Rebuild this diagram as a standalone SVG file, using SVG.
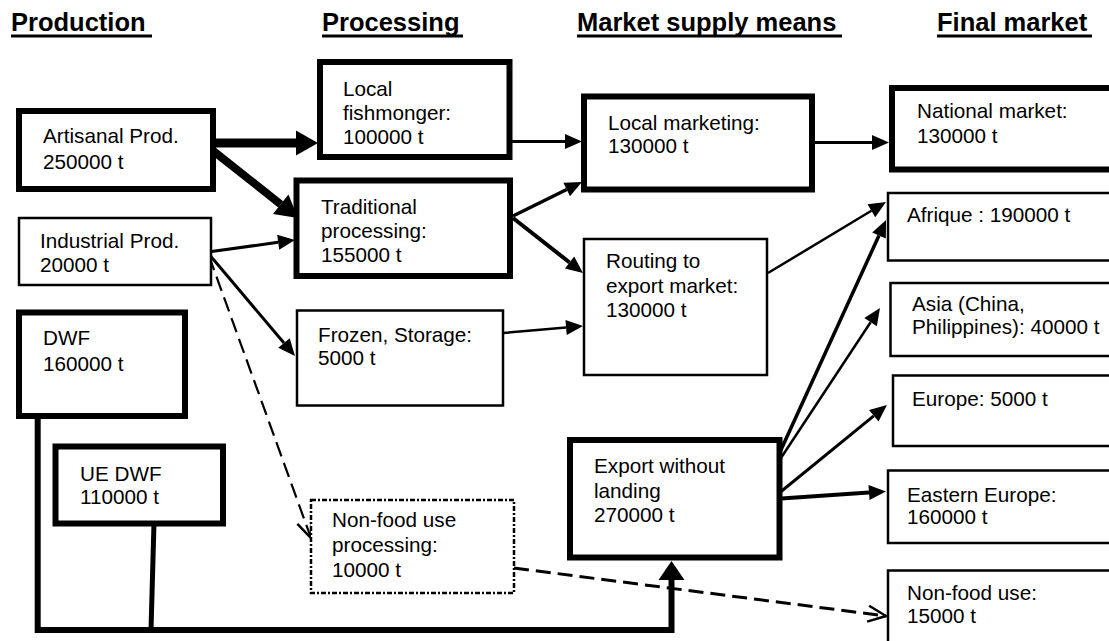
<svg xmlns="http://www.w3.org/2000/svg" width="1109" height="641" viewBox="0 0 1109 641">
<style>
text{font-family:"Liberation Sans",Arial,sans-serif;fill:#000}
.h{font-size:25.5px;font-weight:bold}
.t{font-size:20.7px}
.ul{stroke:#000;stroke-width:3}
.thick{fill:#fff;stroke:#000;stroke-width:6}
.thin{fill:#fff;stroke:#000;stroke-width:2.5}
.dot{fill:#fff;stroke:#000;stroke-width:2.5;stroke-dasharray:5 2 2 2}
.c{fill:none;stroke:#000;stroke-linecap:butt}
.dash{fill:none;stroke:#000;stroke-dasharray:15 7}
</style>
<defs>
<marker id="aL" markerUnits="userSpaceOnUse" markerWidth="24" markerHeight="26" refX="0" refY="12.5" orient="auto" overflow="visible"><path d="M0,0 L22,12.5 L0,25 z" fill="#000"/></marker>
<marker id="aM" markerUnits="userSpaceOnUse" markerWidth="18" markerHeight="16" refX="0" refY="7.5" orient="auto" overflow="visible"><path d="M0,0 L17,7.5 L0,15 z" fill="#000"/></marker>
<marker id="aO" markerUnits="userSpaceOnUse" markerWidth="20" markerHeight="18" refX="18" refY="8" orient="auto" overflow="visible"><path d="M0,0 L18,8 L0,16" fill="none" stroke="#000" stroke-width="2.5"/></marker>
</defs>
<rect width="1109" height="641" fill="#fff"/>

<g id="headers">
<text class="h" x="11" y="31">Production</text>
<line class="ul" x1="11" y1="36" x2="152" y2="36"/>
<text class="h" x="322" y="31">Processing</text>
<line class="ul" x1="322" y1="36" x2="463" y2="36"/>
<text class="h" x="577" y="31">Market supply means</text>
<line class="ul" x1="577" y1="36" x2="842" y2="36"/>
<text class="h" x="937" y="31">Final market</text>
<line class="ul" x1="937" y1="36" x2="1092" y2="36"/>
</g>

<g id="connectors">
<path class="c" d="M37.7,412 L37.7,630 L671.5,630 L671.5,579" stroke-width="6" stroke-linejoin="miter" stroke-linecap="round"/>
<path class="c" d="M154,523 L151,630" stroke-width="5"/>
<polygon points="658.5,580 684.5,580 671.5,561" fill="#000"/>
<line class="c" x1="206" y1="143" x2="296" y2="143" stroke-width="9" marker-end="url(#aL)"/>
<line class="c" x1="207" y1="146" x2="280.7" y2="204.3" stroke-width="8" marker-end="url(#aL)"/>
<line class="c" x1="208" y1="252" x2="278.2" y2="242.3" stroke-width="3" marker-end="url(#aM)"/>
<line class="c" x1="208" y1="253" x2="284" y2="343" stroke-width="3" marker-end="url(#aM)"/>
<line class="dash" x1="209" y1="256" x2="311" y2="538" stroke-width="2.2" marker-end="url(#aO)"/>
<line class="c" x1="512" y1="141.5" x2="565" y2="141.5" stroke-width="3" marker-end="url(#aM)"/>
<line class="c" x1="513" y1="216" x2="566.7" y2="189.5" stroke-width="3.5" marker-end="url(#aM)"/>
<line class="c" x1="513" y1="218" x2="569.6" y2="262.5" stroke-width="4" marker-end="url(#aM)"/>
<line class="c" x1="503" y1="333" x2="566.1" y2="327.5" stroke-width="2.5" marker-end="url(#aM)"/>
<line class="c" x1="815" y1="142.5" x2="872" y2="142.5" stroke-width="3" marker-end="url(#aM)"/>
<line class="c" x1="768" y1="273" x2="871.4" y2="210.8" stroke-width="2.5" marker-end="url(#aM)"/>
<line class="c" x1="776" y1="460.7" x2="879" y2="235.5" stroke-width="3.5" marker-end="url(#aM)"/>
<line class="c" x1="777" y1="464" x2="870.6" y2="322.2" stroke-width="2.5" marker-end="url(#aM)"/>
<line class="c" x1="778" y1="494" x2="873.8" y2="415.8" stroke-width="3" marker-end="url(#aM)"/>
<line class="c" x1="774" y1="499" x2="869" y2="492.6" stroke-width="4" marker-end="url(#aM)"/>
<line class="dash" x1="514" y1="568" x2="886" y2="616" stroke-width="3" marker-end="url(#aO)"/>
</g>

<g id="artisanal">
<rect class="thick" x="19" y="111" width="194" height="78"/>
<text class="t" x="43" y="143">Artisanal Prod.</text>
<text class="t" x="43" y="169">250000 t</text>
</g>
<g id="industrial">
<rect class="thin" x="19" y="218" width="192" height="67"/>
<text class="t" x="40" y="248">Industrial Prod.</text>
<text class="t" x="40" y="272">20000 t</text>
</g>
<g id="dwf">
<rect class="thick" x="19" y="312.5" width="166" height="103.5"/>
<text class="t" x="43" y="345">DWF</text>
<text class="t" x="43" y="371">160000 t</text>
</g>
<g id="uedwf">
<rect class="thick" x="55.5" y="446.5" width="167.5" height="77" stroke-width="5.5"/>
<text class="t" x="80" y="481">UE DWF</text>
<text class="t" x="80" y="504">110000 t</text>
</g>

<g id="fishmonger">
<rect class="thick" x="320" y="62" width="189.5" height="95"/>
<text class="t" x="343" y="96">Local</text>
<text class="t" x="343" y="120">fishmonger:</text>
<text class="t" x="343" y="144">100000 t</text>
</g>
<g id="traditional">
<rect class="thick" x="296.5" y="180.5" width="213.5" height="95.5"/>
<text class="t" x="321" y="214">Traditional</text>
<text class="t" x="321" y="238">processing:</text>
<text class="t" x="321" y="262">155000 t</text>
</g>
<g id="frozen">
<rect class="thin" x="297" y="310.5" width="206" height="95"/>
<text class="t" x="318" y="342">Frozen, Storage:</text>
<text class="t" x="318" y="365">5000 t</text>
</g>
<g id="nonfoodproc">
<rect class="dot" x="311" y="500" width="203" height="93"/>
<text class="t" x="332" y="527">Non-food use</text>
<text class="t" x="332" y="552">processing:</text>
<text class="t" x="332" y="577">10000 t</text>
</g>

<g id="localmarketing">
<rect class="thick" x="584" y="96.5" width="228" height="93"/>
<text class="t" x="608" y="130">Local marketing:</text>
<text class="t" x="608" y="153">130000 t</text>
</g>
<g id="routing">
<rect class="thin" x="584" y="239" width="183" height="136"/>
<text class="t" x="606" y="268">Routing to</text>
<text class="t" x="606" y="293">export market:</text>
<text class="t" x="606" y="317">130000 t</text>
</g>
<g id="export">
<rect class="thick" x="570" y="440" width="209.5" height="117.5"/>
<text class="t" x="594" y="473">Export without</text>
<text class="t" x="594" y="498">landing</text>
<text class="t" x="594" y="522">270000 t</text>
</g>

<g id="national">
<rect class="thick" x="892" y="88" width="240" height="81.5"/>
<text class="t" x="917" y="118">National market:</text>
<text class="t" x="917" y="143">130000 t</text>
</g>
<g id="afrique">
<rect class="thin" x="888" y="193" width="240" height="67.5"/>
<text class="t" x="907" y="222">Afrique : 190000 t</text>
</g>
<g id="asia">
<rect class="thin" x="890.5" y="283" width="240" height="73"/>
<text class="t" x="912" y="311">Asia (China,</text>
<text class="t" x="912" y="334">Philippines): 40000 t</text>
</g>
<g id="europe">
<rect class="thin" x="893" y="375.5" width="240" height="70.5"/>
<text class="t" x="912" y="406">Europe: 5000 t</text>
</g>
<g id="easterneurope">
<rect class="thin" x="888" y="470.5" width="240" height="72.5"/>
<text class="t" x="907" y="502">Eastern Europe:</text>
<text class="t" x="907" y="524">160000 t</text>
</g>
<g id="nonfooduse">
<rect class="thin" x="888" y="570.5" width="240" height="100"/>
<text class="t" x="907" y="600">Non-food use:</text>
<text class="t" x="907" y="623">15000 t</text>
</g>
</svg>
